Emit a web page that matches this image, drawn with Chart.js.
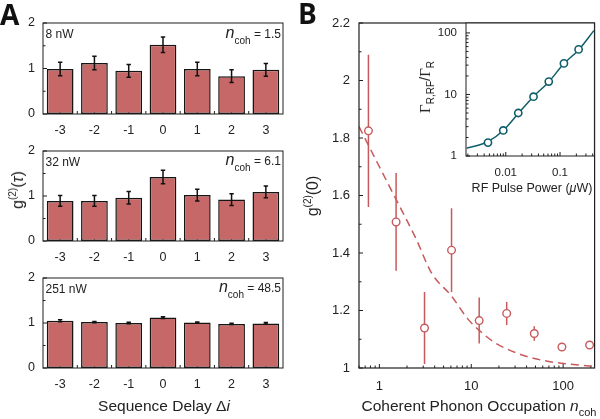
<!DOCTYPE html>
<html>
<head>
<meta charset="utf-8">
<title>g2 histograms and coherent phonon occupation</title>
<script src="https://cdn.jsdelivr.net/npm/chart.js@4.4.1/dist/chart.umd.min.js"></script>
<style>
  body { margin: 0; background: #fff; }
  #fig { position: relative; width: 600px; height: 419px; overflow: hidden; font-family: "Liberation Sans", Arial, sans-serif; color: #222; }
  #fig canvas { position: absolute; left: 0; top: 0; }
  .t { position: absolute; white-space: nowrap; line-height: 1; }
  .letter { font-family: "Open Sans", sans-serif; font-weight: 700; color: #111; }
  .serif { font-family: "Liberation Serif", serif; }
</style>
</head>
<body>
<div id="fig">
  <canvas id="bars8" width="600" height="419"></canvas>
  <canvas id="bars32" width="600" height="419"></canvas>
  <canvas id="bars251" width="600" height="419"></canvas>
  <canvas id="g2vsN" width="600" height="419"></canvas>
  <canvas id="inset" width="600" height="419"></canvas>
</div>
<script>
// panel A - g2(tau) vs sequence delay, three RF powers
const delays = ["-3", "-2", "-1", "0", "1", "2", "3"];
const g2At8nW = [0.99, 1.12, 0.95, 1.52, 0.99, 0.83, 0.97];
const err8nW = [0.15, 0.15, 0.14, 0.17, 0.15, 0.14, 0.14];
const g2At32nW = [0.89, 0.89, 0.96, 1.42, 1.02, 0.92, 1.09];
const err32nW = [0.12, 0.12, 0.14, 0.15, 0.13, 0.13, 0.13];
const g2At251nW = [1.05, 1.02, 1.00, 1.12, 1.01, 0.98, 0.99];
const err251nW = [0.02, 0.015, 0.015, 0.02, 0.015, 0.015, 0.02];

// panel B - g2(0) vs coherent phonon occupation
const nCoh = [0.76, 1.52, 3.1, 6.1, 12.2, 24.3, 48.5, 97, 194];
const g2Zero = [1.825, 1.508, 1.139, 1.41, 1.165, 1.19, 1.12, 1.073, 1.08];
const g2ZeroErr = [0.265, 0.17, 0.125, 0.146, 0.08, 0.04, 0.025, 0.01, 0.01];
// dashed model curve
const fitN = [0.6, 0.76, 1.0, 1.5, 2.5, 3.7, 6.1, 9.2, 12.3, 18, 25, 35, 50, 72, 100, 150, 220];
const fitG2 = [1.84, 1.775, 1.70, 1.59, 1.45, 1.33, 1.25, 1.17, 1.13, 1.088, 1.065, 1.046, 1.032, 1.022, 1.016, 1.01, 1.006];

// inset - rate ratio vs RF pulse power
const rfPower = [0.0047, 0.009, 0.017, 0.0325, 0.062, 0.118, 0.22];
const rateRatio = [1.65, 2.6, 5.0, 9.2, 16.2, 32, 54];
const fitPower = [0.0019, 0.003, 0.0047, 0.009, 0.017, 0.0325, 0.062, 0.115, 0.22, 0.42];
const fitRatio = [1.34, 1.48, 1.71, 2.6, 4.9, 9.3, 16, 31, 53, 109];

// tick labels
const barTicks = [0, 1, 2];
const g2Ticks = [1, 1.2, 1.4, 1.6, 1.8, 2, 2.2];
const nTicks = [1, 10, 100];
const powerTicks = [0.01, 0.1];
const ratioTicks = [1, 10, 100];

const ink = "#1e1e1e";
const barFill = "#c66868";
const red = "#c75a5c";
const teal = "#0f5f6b";

Chart.defaults.font.family = "'Liberation Sans', Arial, sans-serif";
Chart.defaults.color = "#222";

function fixedTicks(values) {
  return s => { s.ticks = values.map(v => ({ value: v })); };
}

function logMinors(lo, hi) {
  const out = [];
  for (let d = Math.floor(Math.log10(lo)); d <= Math.ceil(Math.log10(hi)); d++) {
    for (let k = 2; k < 10; k++) {
      const v = k * Math.pow(10, d);
      if (v > lo && v < hi) out.push(v);
    }
  }
  return out;
}

// box around the plot area + inward tick marks
function frameWith(spec) {
  return {
    id: "frame",
    beforeDraw(chart) {
      if (!spec.white) return;
      const a = chart.chartArea, ctx = chart.ctx;
      ctx.save();
      ctx.fillStyle = "#fff";
      ctx.fillRect(a.left, a.top, a.right - a.left, a.bottom - a.top);
      ctx.restore();
    },
    beforeDatasetsDraw(chart) {
      const a = chart.chartArea, ctx = chart.ctx;
      const x = chart.scales.x, y = chart.scales.y;
      ctx.save();
      ctx.strokeStyle = ink;
      ctx.lineWidth = 1;
      ctx.beginPath();
      spec.xTicks.forEach(([v, len]) => {
        const p = x.getPixelForValue(v);
        ctx.moveTo(p, a.bottom);
        ctx.lineTo(p, a.bottom - len);
      });
      spec.yTicks.forEach(([v, len]) => {
        const p = y.getPixelForValue(v);
        ctx.moveTo(a.left, p);
        ctx.lineTo(a.left + len, p);
      });
      ctx.stroke();
      ctx.restore();
    },
    afterDatasetsDraw(chart) {
      const a = chart.chartArea, ctx = chart.ctx;
      ctx.save();
      ctx.strokeStyle = ink;
      ctx.lineWidth = spec.lw || 1;
      ctx.strokeRect(a.left, a.top, a.right - a.left, a.bottom - a.top);
      ctx.restore();
    }
  };
}

function barErrorsWith(errors) {
  return {
    id: "barErrors",
    afterDatasetsDraw(chart) {
      const meta = chart.getDatasetMeta(0);
      const y = chart.scales.y, ctx = chart.ctx;
      const vals = chart.data.datasets[0].data;
      ctx.save();
      ctx.strokeStyle = "#111";
      ctx.lineWidth = 1.5;
      ctx.beginPath();
      meta.data.forEach((bar, i) => {
        const top = y.getPixelForValue(vals[i] + errors[i]);
        const bot = y.getPixelForValue(vals[i] - errors[i]);
        ctx.moveTo(bar.x, top); ctx.lineTo(bar.x, bot);
        ctx.moveTo(bar.x - 2.2, top); ctx.lineTo(bar.x + 2.2, top);
        ctx.moveTo(bar.x - 2.2, bot); ctx.lineTo(bar.x + 2.2, bot);
      });
      ctx.stroke();
      ctx.restore();
    }
  };
}

const pointErrors = {
  id: "pointErrors",
  beforeDatasetsDraw(chart) {
    const x = chart.scales.x, y = chart.scales.y, ctx = chart.ctx;
    ctx.save();
    ctx.strokeStyle = red;
    ctx.lineWidth = 1.5;
    ctx.beginPath();
    nCoh.forEach((n, i) => {
      const px = x.getPixelForValue(n);
      ctx.moveTo(px, y.getPixelForValue(g2Zero[i] + g2ZeroErr[i]));
      ctx.lineTo(px, y.getPixelForValue(g2Zero[i] - g2ZeroErr[i]));
    });
    ctx.stroke();
    ctx.restore();
  }
};

const noGrid = { display: false, drawTicks: false };

function barPanel(id, top, bottom, values, errors) {
  const xTicks = [];
  delays.forEach((d, i) => {
    xTicks.push([i, 3]);
    if (i < delays.length - 1) xTicks.push([i + 0.5, 3]);
  });
  const yTicks = [[0, 4], [0.5, 2.5], [1, 4], [1.5, 2.5], [2, 4]];
  return new Chart(id, {
    type: "bar",
    data: {
      labels: delays,
      datasets: [{
        data: values,
        backgroundColor: barFill,
        borderColor: "#151515",
        borderWidth: 1.5,
        borderSkipped: false,
        barPercentage: 0.78,
        categoryPercentage: 1
      }]
    },
    options: {
      responsive: false,
      animation: false,
      events: [],
      layout: { padding: { left: 0, right: 317, top: top, bottom: 419 - bottom - 30 } },
      plugins: { legend: { display: false }, tooltip: { enabled: false } },
      scales: {
        x: {
          grid: noGrid, border: { display: false },
          ticks: { padding: 9, maxRotation: 0, font: { size: 12.5 } },
          afterFit: s => { s.height = 30; }
        },
        y: {
          min: 0, max: 2,
          grid: noGrid, border: { display: false },
          afterBuildTicks: fixedTicks(barTicks),
          ticks: { padding: 8, font: { size: 12.5 } },
          afterFit: s => { s.width = 43; }
        }
      }
    },
    plugins: [frameWith({ xTicks, yTicks }), barErrorsWith(errors)]
  });
}

barPanel("bars8", 23, 114, g2At8nW, err8nW);
barPanel("bars32", 151, 241, g2At32nW, err32nW);
barPanel("bars251", 278, 368, g2At251nW, err251nW);

// panel B main plot
const bXTicks = nTicks.map(v => [v, 4]).concat(logMinors(0.6, 220).map(v => [v, 2.5]));
const bYTicks = g2Ticks.map(v => [v, 4]).concat([1.1, 1.3, 1.5, 1.7, 1.9, 2.1].map(v => [v, 2.5]));

new Chart("g2vsN", {
  type: "scatter",
  data: {
    datasets: [
      {
        data: fitN.map((n, i) => ({ x: n, y: fitG2[i] })),
        showLine: true,
        borderColor: red,
        borderWidth: 1.5,
        borderDash: [8, 5],
        pointRadius: 0,
        cubicInterpolationMode: "monotone",
        order: 2
      },
      {
        data: nCoh.map((n, i) => ({ x: n, y: g2Zero[i] })),
        pointRadius: 3.8,
        pointBorderWidth: 1.4,
        pointBorderColor: red,
        pointBackgroundColor: "#fff",
        order: 1
      }
    ]
  },
  options: {
    responsive: false,
    animation: false,
    events: [],
    layout: { padding: { left: 319, right: 1, top: 23, bottom: 21 } },
    plugins: { legend: { display: false }, tooltip: { enabled: false } },
    scales: {
      x: {
        type: "logarithmic", min: 0.6, max: 220, bounds: "data",
        grid: noGrid, border: { display: false },
        afterBuildTicks: fixedTicks(nTicks),
        ticks: { padding: 11, maxRotation: 0, font: { size: 13 }, callback: v => String(v) },
        afterFit: s => { s.height = 30; }
      },
      y: {
        min: 1, max: 2.2,
        grid: noGrid, border: { display: false },
        afterBuildTicks: fixedTicks(g2Ticks),
        ticks: { padding: 9, font: { size: 13 }, callback: v => String(+v.toFixed(1)) },
        afterFit: s => { s.width = 40; }
      }
    }
  },
  plugins: [frameWith({ xTicks: bXTicks, yTicks: bYTicks, lw: 1.2 }), pointErrors]
});

// inset
const iXTicks = powerTicks.map(v => [v, 4]).concat(logMinors(0.00185, 0.43).map(v => [v, 2.5]));
const iYTicks = ratioTicks.map(v => [v, 4]).concat(logMinors(1, 145).map(v => [v, 2.5]));

new Chart("inset", {
  type: "scatter",
  data: {
    datasets: [
      {
        data: fitPower.map((p, i) => ({ x: p, y: fitRatio[i] })),
        showLine: true,
        borderColor: teal,
        borderWidth: 1.5,
        pointRadius: 0,
        cubicInterpolationMode: "monotone",
        order: 2
      },
      {
        data: rfPower.map((p, i) => ({ x: p, y: rateRatio[i] })),
        pointRadius: 3.6,
        pointBorderWidth: 1.6,
        pointBorderColor: teal,
        pointBackgroundColor: "#fff",
        order: 1
      }
    ]
  },
  options: {
    responsive: false,
    animation: false,
    events: [],
    layout: { padding: { left: 426, right: 1, top: 23, bottom: 238 } },
    plugins: { legend: { display: false }, tooltip: { enabled: false } },
    scales: {
      x: {
        type: "logarithmic", min: 0.00185, max: 0.43, bounds: "data",
        grid: noGrid, border: { display: false },
        afterBuildTicks: fixedTicks(powerTicks),
        ticks: { padding: 10, maxRotation: 0, font: { size: 11.5 }, callback: v => String(v) },
        afterFit: s => { s.height = 25; }
      },
      y: {
        type: "logarithmic", min: 1, max: 145, bounds: "data",
        grid: noGrid, border: { display: false },
        afterBuildTicks: fixedTicks(ratioTicks),
        ticks: { padding: 9, font: { size: 11.5 }, callback: v => String(v) },
        afterFit: s => { s.width = 40; }
      }
    }
  },
  plugins: [frameWith({ xTicks: iXTicks, yTicks: iYTicks, white: true })]
});

// text overlays (line-height 1, baseline given)
const fig = document.getElementById("fig");
function addText(html, x, base, size, align, cls, ascent) {
  const d = document.createElement("div");
  d.className = "t" + (cls ? " " + cls : "");
  d.innerHTML = html;
  d.style.fontSize = size + "px";
  d.style.left = x + "px";
  d.style.top = (base - (ascent || 0.8465) * size) + "px";
  if (align === "right") d.style.transform = "translateX(-100%)";
  if (align === "center") d.style.transform = "translateX(-50%)";
  fig.appendChild(d);
}
function addVText(html, cx, cy, size) {
  const d = document.createElement("div");
  d.className = "t";
  d.innerHTML = html;
  d.style.fontSize = size + "px";
  d.style.left = cx + "px";
  d.style.top = cy + "px";
  d.style.transform = "translate(-50%, -50%) rotate(-90deg)";
  fig.appendChild(d);
}
const sub = (s, size, dy) => `<span style="font-size:${size}px;position:relative;top:${dy}px">${s}</span>`;

addText("A", 0, 25, 28, null, "letter", 0.888);
addText("B", 298, 23.5, 28, null, "letter", 0.888);

const powers = ["8 nW", "32 nW", "251 nW"];
const nLabels = ["1.5", "6.1", "48.5"];
const baselines = [38.3, 166, 293];
powers.forEach((p, i) => {
  addText(p, 45.5, baselines[i], 12);
  addText(`<i>n</i>${sub("coh", 10, 6)}<span style="font-size:12px"> = ${nLabels[i]}</span>`, 281, baselines[i], 16, "right");
});

addVText(`g${sub("(2)", 10, -7)}(<i>τ</i>)`, 18, 190, 16);
addText(`Sequence Delay Δ<i>i</i>`, 164, 411, 15.5, "center");

addVText(`g${sub("(2)", 10, -7)}(0)`, 313, 196, 16);
addText(`Coherent Phonon Occupation <i>n</i>${sub("coh", 11, 5)}`, 479, 411.5, 15.5, "center");

addText(`RF Pulse Power (<i>μ</i>W)`, 532, 193, 12.5, "center");
addVText(`<span class="serif">Γ</span>${sub("R,RF", 10, 4)}/<span class="serif">Γ</span>${sub("R", 10, 4)}`, 425, 87, 15);
</script>
</body>
</html>
